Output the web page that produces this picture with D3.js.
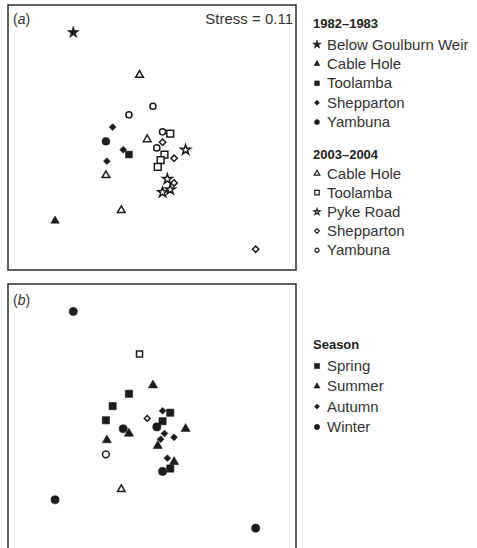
<!DOCTYPE html>
<html>
<head>
<meta charset="utf-8">
<script src="https://cdn.jsdelivr.net/npm/d3@7/dist/d3.min.js"></script>
<style>
  html, body { margin: 0; padding: 0; background: #fff; }
  svg { display: block; font-family: "Liberation Sans", Arial, Helvetica, sans-serif; }
</style>
</head>
<body>
<svg id="chart" width="477" height="548"></svg>
<script>
// NMDS ordination scores for each sample (axis 1, axis 2)
const nmds1 = [-0.82, -0.13, 0.01, -0.24, -0.41, 0.11, 0.19, -0.48, -0.05, 0.11,
               0.05, 0.35, -0.30, -0.24, 0.13, 0.23, 0.09, -0.47, 0.06, -0.48,
               0.16, 0.23, 0.11, 0.19, -0.32, -1.01, 1.08];
const nmds2 = [1.11, 0.66, 0.33, 0.24, 0.11, 0.06, 0.04, -0.04, -0.02, -0.05,
               -0.11, -0.13, -0.13, -0.18, -0.18, -0.22, -0.24, -0.25, -0.31, -0.40,
               -0.44, -0.48, -0.58, -0.55, -0.77, -0.88, -1.18];

// Site / sampling period of each sample (panel a)
const sampleSite = ["BGW82", "CH03", "YAM03", "YAM03", "SHEP82", "YAM03", "TOOL03", "YAM82", "CH03", "SHEP03",
                    "YAM03", "PYKE03", "SHEP82", "TOOL82", "TOOL03", "SHEP03", "TOOL03", "SHEP82", "TOOL03", "CH03",
                    "PYKE03", "SHEP03", "PYKE03", "PYKE03", "CH03", "CH82", "SHEP03"];

// Season of each sample (panel b)
const sampleSeason = ["Winter", "Spring", "Summer", "Spring", "Spring", "Autumn", "Spring", "Spring", "Autumn", "Spring",
                      "Winter", "Summer", "Winter", "Summer", "Autumn", "Autumn", "Autumn", "Summer", "Summer", "Winter",
                      "Autumn", "Summer", "Winter", "Spring", "Summer", "Winter", "Winter"];

const stressValue = 0.11;

// Legend groups
const period1Label = "1982–1983";
const period1Keys = ["BGW82", "CH82", "TOOL82", "SHEP82", "YAM82"];
const period1Names = ["Below Goulburn Weir", "Cable Hole", "Toolamba", "Shepparton", "Yambuna"];
const period2Label = "2003–2004";
const period2Keys = ["CH03", "TOOL03", "PYKE03", "SHEP03", "YAM03"];
const period2Names = ["Cable Hole", "Toolamba", "Pyke Road", "Shepparton", "Yambuna"];
const seasonLabel = "Season";
const seasonNames = ["Spring", "Summer", "Autumn", "Winter"];

// ---------- symbol styles ----------
const INK = "#1c1c1c";
const siteStyle = {
  BGW82:  { type: d3.symbolStar,     filled: true,  size: 42, legend: 22 },
  CH82:   { type: d3.symbolTriangle, filled: true,  size: 30, legend: 14 },
  TOOL82: { type: d3.symbolSquare,   filled: true,  size: 46, legend: 22 },
  SHEP82: { type: d3.symbolDiamond2, filled: true,  size: 30, legend: 16 },
  YAM82:  { type: d3.symbolCircle,   filled: true,  size: 48, legend: 20 },
  CH03:   { type: d3.symbolTriangle, filled: false, size: 26, legend: 14 },
  TOOL03: { type: d3.symbolSquare,   filled: false, size: 46, legend: 20 },
  PYKE03: { type: d3.symbolStar,     filled: false, size: 30, legend: 12 },
  SHEP03: { type: d3.symbolDiamond2, filled: false, size: 26, legend: 14 },
  YAM03:  { type: d3.symbolCircle,   filled: false, size: 30, legend: 14 }
};
const seasonStyle = {
  Spring: { type: d3.symbolSquare,   size: 52, legend: 26 },
  Summer: { type: d3.symbolTriangle, size: 36, legend: 16 },
  Autumn: { type: d3.symbolDiamond2, size: 30, legend: 16 },
  Winter: { type: d3.symbolCircle,   size: 52, legend: 22 }
};

const svg = d3.select("#chart");

// ---------- panel geometry and scales ----------
const panelW = 288, panelH = 265;
const panels = [{ x: 8, y: 5, tag: "a" }, { x: 8, y: 284, tag: "b" }];
const xScale = d3.scaleLinear().domain([-1.5, 1.5]).range([0, panelW]);
const yScale = d3.scaleLinear().domain([-1.4, 1.4]).range([panelH, 0]);

const samples = nmds1.map((v, i) => ({
  x: v, y: nmds2[i], site: sampleSite[i], season: sampleSeason[i]
}));

function drawMark(sel, type, size, filled, strokeW) {
  sel.attr("d", d3.symbol().type(type).size(size)())
     .attr("fill", filled ? INK : "#fff")
     .attr("stroke", INK)
     .attr("stroke-width", filled ? 0.6 : (strokeW || 1.5))
     .attr("stroke-linejoin", "miter");
}

panels.forEach(p => {
  const g = svg.append("g").attr("transform", `translate(${p.x},${p.y})`);
  g.append("rect")
    .attr("width", panelW).attr("height", panelH)
    .attr("fill", "none").attr("stroke", "#3a3a3a").attr("stroke-width", 1.6);

  const label = g.append("text").attr("x", 5).attr("y", p.tag === "a" ? 19 : 21)
    .attr("font-size", 14).attr("fill", "#333");
  label.append("tspan").text("(");
  label.append("tspan").attr("font-style", "italic").text(p.tag);
  label.append("tspan").text(")");

  if (p.tag === "a") {
    g.append("text").attr("x", panelW - 3).attr("y", 19)
      .attr("text-anchor", "end").attr("font-size", 15).attr("fill", "#333")
      .text(`Stress = ${stressValue}`);
  }

  g.selectAll("path.pt").data(samples).join("path").attr("class", "pt")
    .attr("transform", d => `translate(${xScale(d.x)},${yScale(d.y)})`)
    .each(function (d) {
      if (p.tag === "a") {
        const s = siteStyle[d.site];
        drawMark(d3.select(this), s.type, s.size, s.filled);
      } else {
        const s = seasonStyle[d.season];
        // Cable Hole 2003–2004 samples stay hollow in the season view
        const filled = d.site !== "CH03";
        drawMark(d3.select(this), s.type, filled ? s.size : s.size * 0.7, filled);
      }
    });
});

// ---------- legends ----------
const symX = 317, txtX = 327, headX = 313;

function legendBlock(headText, headY, names, styles, firstY, step) {
  svg.append("text").attr("x", headX).attr("y", headY)
    .attr("font-size", 13).attr("font-weight", "bold").attr("fill", "#222")
    .text(headText);
  names.forEach((n, i) => {
    const cy = firstY + i * step;
    const s = styles[i];
    drawMark(svg.append("path").attr("transform", `translate(${symX},${cy})`),
             s.type, s.legend, s.filled, 1.2);
    svg.append("text").attr("x", txtX).attr("y", cy + 5)
      .attr("font-size", 15).attr("fill", "#333").text(n);
  });
}

legendBlock(period1Label, 28, period1Names, period1Keys.map(k => siteStyle[k]), 44.5, 19.4);
legendBlock(period2Label, 159, period2Names, period2Keys.map(k => siteStyle[k]), 173.5, 19.2);
legendBlock(seasonLabel, 349, seasonNames,
            seasonNames.map(n => Object.assign({ filled: true }, seasonStyle[n])), 366, 20.3);
</script>
</body>
</html>
